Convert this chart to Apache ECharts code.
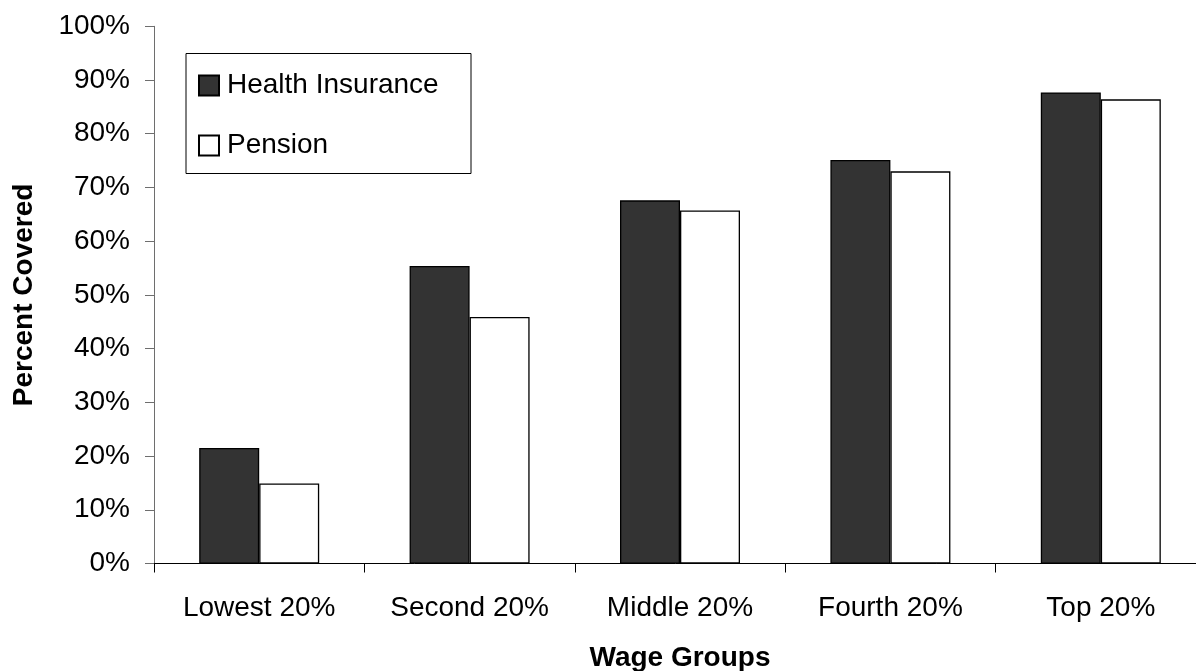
<!DOCTYPE html>
<html>
<head>
<meta charset="utf-8">
<script src="https://cdn.jsdelivr.net/npm/echarts@6/dist/echarts.min.js"></script>
<style>
  html, body { margin: 0; padding: 0; background: #fff; }
  #chart { width: 1196px; height: 671px; }
</style>
</head>
<body>
<div id="chart"></div>
<script>
// Share of workers covered, by wage quintile
const categories = ['Lowest 20%', 'Second 20%', 'Middle 20%', 'Fourth 20%', 'Top 20%'];
const healthInsurance = [21.5, 55.4, 67.6, 75.1, 87.7];
const pension = [14.9, 45.9, 65.7, 73.0, 86.4];
const yTicks = { min: 0, max: 100, interval: 10 };

const FONT = '"Liberation Sans", Arial, sans-serif';

const chart = echarts.init(document.getElementById('chart'), null, { renderer: 'canvas' });

chart.setOption({
  animation: false,
  backgroundColor: '#ffffff',
  textStyle: { fontFamily: FONT },
  grid: {
    left: 154,
    top: 26.3,
    width: 1052,
    bottom: 107.5,
    containLabel: false,
    outerBoundsMode: 'none'
  },
  legend: {
    orient: 'vertical',
    left: 198,
    top: 70.5,
    padding: 0,
    icon: 'rect',
    itemWidth: 20,
    itemHeight: 20,
    itemGap: 30,
    textStyle: {
      fontFamily: FONT,
      fontSize: 28,
      color: '#000',
      lineHeight: 30,
      padding: [0, 0, 0, 3]
    },
    data: ['Health Insurance', 'Pension']
  },
  graphic: [{
    type: 'rect',
    shape: { x: 186, y: 53.5, width: 285, height: 120 },
    style: { fill: 'transparent', stroke: '#000', lineWidth: 1 },
    z: 0
  }],
  xAxis: {
    type: 'category',
    data: categories,
    boundaryGap: true,
    name: 'Wage Groups',
    nameLocation: 'middle',
    nameGap: 81,
    nameTextStyle: { fontFamily: FONT, fontSize: 28, fontWeight: 'bold', color: '#000' },
    axisLine: { lineStyle: { color: '#000', width: 1 } },
    axisTick: { show: true, length: 9, alignWithLabel: false, lineStyle: { color: '#000' } },
    axisLabel: { margin: 31, fontFamily: FONT, fontSize: 28, color: '#000', interval: 0 },
    splitLine: { show: false }
  },
  yAxis: {
    type: 'value',
    min: yTicks.min,
    max: yTicks.max,
    interval: yTicks.interval,
    name: 'Percent Covered',
    nameLocation: 'middle',
    nameGap: 116,
    nameRotate: 90,
    nameTextStyle: { fontFamily: FONT, fontSize: 28, fontWeight: 'bold', color: '#000' },
    axisLine: { show: true, lineStyle: { color: '#6e6e6e', width: 1 } },
    axisTick: { show: true, length: 9, lineStyle: { color: '#6e6e6e' } },
    axisLabel: { margin: 24, fontFamily: FONT, fontSize: 28, color: '#000', formatter: '{value}%' },
    splitLine: { show: false }
  },
  series: [
    {
      name: 'Health Insurance',
      type: 'bar',
      data: healthInsurance,
      barWidth: 60,
      barGap: '0%',
      itemStyle: { color: '#333333', borderColor: '#000', borderWidth: 1.3 }
    },
    {
      name: 'Pension',
      type: 'bar',
      data: pension,
      barWidth: 60,
      barGap: '0%',
      itemStyle: { color: '#ffffff', borderColor: '#000', borderWidth: 1.3 }
    }
  ]
});
</script>
</body>
</html>
